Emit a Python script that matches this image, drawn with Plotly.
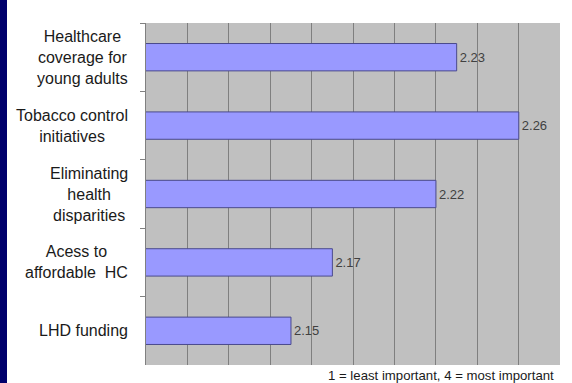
import plotly.graph_objects as go

# Survey priorities (mean rating)
categories = [
    "Healthcare<br>coverage for<br>young adults",
    "Tobacco control<br>initiatives",
    "Eliminating<br>health<br>disparities",
    "Acess to<br>affordable  HC",
    "LHD funding",
]
scores = [2.23, 2.26, 2.22, 2.17, 2.15]
score_labels = ["2.23", "2.26", "2.22", "2.17", "2.15"]
scale_note = "1 = least important, 4 = most important"

W, H = 572, 383
M_L, M_R, M_T, M_B = 146, 12, 23, 18
plot_w = W - M_L - M_R
plot_h = H - M_T - M_B

fig = go.Figure()
fig.add_trace(go.Bar(
    x=scores,
    y=categories,
    orientation="h",
    marker=dict(color="#9999FF", line=dict(color="#4A4A8C", width=1)),
    text=score_labels,
    textposition="outside",
    textfont=dict(family="Liberation Sans, Arial, sans-serif", size=13, color="#404040"),
    cliponaxis=False,
    hoverinfo="skip",
))

# Category labels, centred line by line, right-aligned to the axis
for cat in categories:
    fig.add_annotation(
        x=0, xref="paper", y=cat, yref="y",
        text=cat, showarrow=False,
        xanchor="right", yanchor="middle", align="center",
        xshift=-16,
        font=dict(family="Liberation Sans, Arial, sans-serif", size=16, color="#1A1A1A"),
    )

# Scale note under the plot area
fig.add_annotation(
    x=1, xref="paper", y=0, yref="paper",
    text=scale_note, showarrow=False,
    xanchor="right", yanchor="top", yshift=-1, xshift=-4,
    font=dict(family="Liberation Sans, Arial, sans-serif", size=13.2, color="#1A1A1A"),
)

# Navy band along the left edge of the page
fig.add_shape(
    type="rect", xref="paper", yref="paper",
    x0=-M_L / plot_w, x1=(7 - M_L) / plot_w,
    y0=-M_B / plot_h - 0.01, y1=1 + M_T / plot_h + 0.01,
    fillcolor="#00006B", line=dict(width=0), layer="above",
)

fig.update_layout(
    width=W, height=H,
    margin=dict(l=M_L, r=M_R, t=M_T, b=M_B, pad=0),
    paper_bgcolor="white",
    plot_bgcolor="#C0C0C0",
    bargap=0.6,
    showlegend=False,
    xaxis=dict(
        range=[2.08, 2.2799], tick0=2.08, dtick=0.02,
        showgrid=True, gridcolor="#7F7F7F", gridwidth=1,
        showticklabels=False, ticks="", zeroline=False, showline=False,
        fixedrange=True,
    ),
    yaxis=dict(
        autorange="reversed",
        showticklabels=False,
        showgrid=False,
        ticks="outside", tickson="boundaries", ticklen=5,
        tickcolor="#808080", tickwidth=1,
        showline=True, linecolor="#808080", linewidth=1,
        fixedrange=True,
    ),
)

fig.write_html("out.html")
